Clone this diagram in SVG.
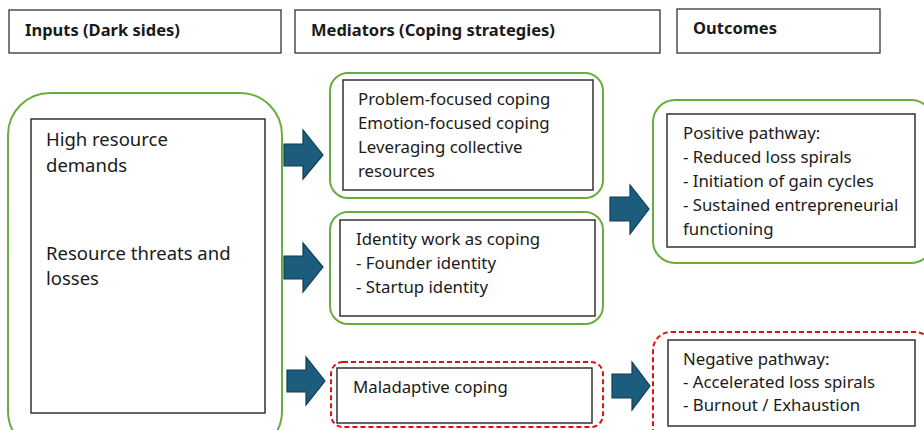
<svg xmlns="http://www.w3.org/2000/svg" width="924" height="430" viewBox="0 0 924 430">
<style>
text{font-family:"Noto Sans","Liberation Sans",sans-serif;fill:#1a1a1a}
.hd{font-size:16.5px;font-weight:bold}
.t{font-size:16.8px}
.tl{font-size:18.5px}
.hbox{fill:#fff;stroke:#333;stroke-width:1.3}
.inner{fill:#fff;stroke:#333;stroke-width:1.5}
.g{fill:#fff;stroke:#6aad3d;stroke-width:2}
.r{fill:#fff;stroke:#e01010;stroke-width:2;stroke-dasharray:5 3}
.arrow{fill:#1c5d7d;stroke:#0f3d55;stroke-width:1.2}
</style>
<rect width="924" height="430" fill="#fff"/>
<g id="hdr-inputs"><rect class="hbox" x="9" y="10" width="272" height="43"/><text class="hd" x="25" y="36">Inputs (Dark sides)</text></g>
<g id="hdr-mediators"><rect class="hbox" x="295" y="10" width="365" height="43"/><text class="hd" x="311" y="36">Mediators (Coping strategies)</text></g>
<g id="hdr-outcomes"><rect class="hbox" x="677" y="9" width="203" height="44"/><text class="hd" x="693" y="34">Outcomes</text></g>

<g id="inputs">
<rect class="g" x="8" y="93" width="274" height="360" rx="42"/>
<rect class="inner" x="31" y="119" width="234" height="294"/>
<text class="tl" x="46" y="146">High resource</text>
<text class="tl" x="46" y="172">demands</text>
<text class="tl" x="46" y="260">Resource threats and</text>
<text class="tl" x="46" y="285">losses</text>
</g>

<g id="med-adaptive">
<rect class="g" x="330" y="73" width="273" height="125" rx="18"/>
<rect class="inner" x="343" y="80" width="250" height="110"/>
<text class="t" x="358" y="105">Problem-focused coping</text>
<text class="t" x="358" y="129">Emotion-focused coping</text>
<text class="t" x="358" y="153">Leveraging collective</text>
<text class="t" x="358" y="177">resources</text>
</g>

<g id="med-identity">
<rect class="g" x="330" y="212" width="273" height="112" rx="18"/>
<rect class="inner" x="340" y="220" width="255" height="96"/>
<text class="t" x="356" y="245">Identity work as coping</text>
<text class="t" x="356" y="269">- Founder identity</text>
<text class="t" x="356" y="293">- Startup identity</text>
</g>

<g id="med-maladaptive">
<rect class="r" x="331" y="362" width="272" height="65" rx="12"/>
<rect class="inner" x="337" y="368" width="255" height="55"/>
<text class="t" x="353" y="393">Maladaptive coping</text>
</g>

<g id="out-positive">
<rect class="g" x="653" y="100" width="280" height="163" rx="22"/>
<rect class="inner" x="667" y="114" width="248" height="133"/>
<text class="t" x="683" y="139">Positive pathway:</text>
<text class="t" x="683" y="163">- Reduced loss spirals</text>
<text class="t" x="683" y="187">- Initiation of gain cycles</text>
<text class="t" x="683" y="211">- Sustained entrepreneurial</text>
<text class="t" x="683" y="235">functioning</text>
</g>

<g id="out-negative">
<rect class="r" x="653" y="332" width="280" height="120" rx="18"/>
<rect class="inner" x="668" y="340" width="247" height="86"/>
<text class="t" x="683" y="365">Negative pathway:</text>
<text class="t" x="683" y="388">- Accelerated loss spirals</text>
<text class="t" x="683" y="411">- Burnout / Exhaustion</text>
</g>

<g id="connectors">
<path class="arrow" d="M284,144 H303 V130 L323,155 L303,179 V166 H284 Z"/>
<path class="arrow" d="M284,256 H303 V243 L323,267 L303,292 V279 H284 Z"/>
<path class="arrow" d="M287,370 H306 V357 L325,381 L306,405 V392 H287 Z"/>
<path class="arrow" d="M610,197 H630 V185 L649,209 L630,234 V221 H610 Z"/>
<path class="arrow" d="M612,374 H632 V362 L650,386 L632,410 V398 H612 Z"/>
</g>
</svg>
